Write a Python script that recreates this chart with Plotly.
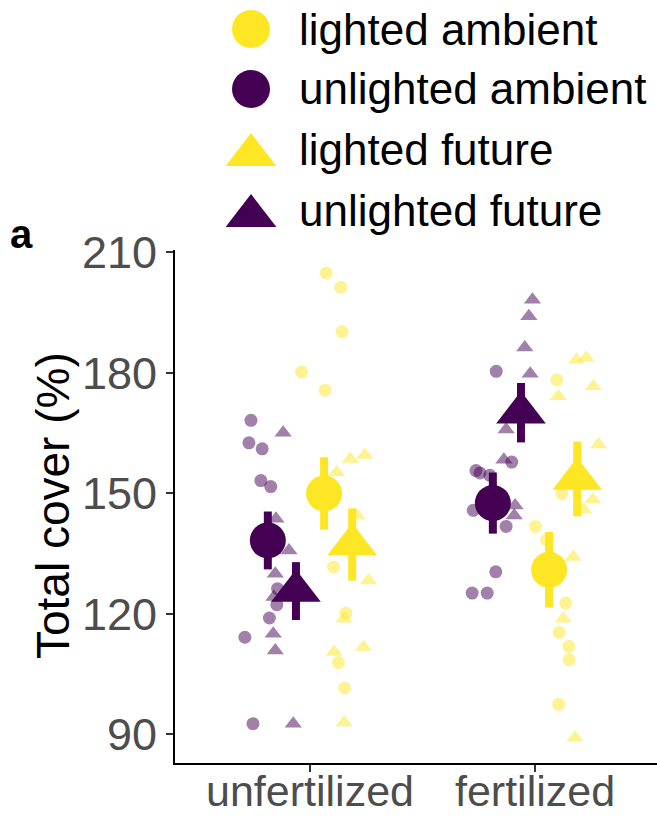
import plotly.graph_objects as go

# ---------------- data ----------------
categories = ["unfertilized", "fertilized"]
tick_values = [90, 120, 150, 180, 210]

groups = ["unlighted ambient", "unlighted future", "lighted ambient", "lighted future"]
legend_order = ["lighted ambient", "unlighted ambient", "lighted future", "unlighted future"]

# raw plot values (total cover %) per group, per category
ua_unfert = [168.2, 162.6, 161.1, 153.2, 151.7, 126.3, 122.3, 119.0, 114.2, 92.7]
ua_fert = [180.4, 157.8, 155.7, 155.1, 154.5, 145.8, 141.8, 130.5, 125.2, 125.2]
uf_unfert = [165.1, 143.7, 135.8, 130.0, 124.2, 115.1, 110.9, 92.7]
uf_fert = [198.2, 194.1, 186.3, 179.8, 165.9, 158.4, 147.0, 144.5]
la_unfert = [204.9, 201.3, 190.3, 180.2, 175.7, 131.7, 120.2, 107.9, 101.6]
la_fert = [178.3, 149.9, 141.8, 138.5, 122.7, 115.4, 111.9, 108.6, 97.5]
lf_unfert = [159.6, 158.6, 155.3, 144.5, 128.3, 118.8, 111.8, 110.5, 93.0]
lf_fert = [183.3, 183.8, 176.7, 174.2, 162.2, 148.5, 146.0, 134.2, 118.8, 89.2]

# horizontal jitter of each raw value (category units, relative to its dodge position)
ua_unfert_jit = [-0.075, -0.084, -0.025, -0.031, 0.013, 0.043, 0.040, 0.007, -0.102, -0.066]
ua_fert_jit = [0.015, 0.084, -0.075, -0.057, -0.013, -0.087, 0.059, 0.013, -0.092, -0.025]
uf_unfert_jit = [-0.057, -0.089, -0.031, -0.092, -0.098, -0.101, -0.092, -0.012]
uf_fert_jit = [0.051, 0.035, 0.017, 0.041, -0.066, -0.076, -0.026, -0.030]
la_unfert_jit = [0.009, 0.074, 0.080, -0.100, 0.005, 0.042, 0.097, 0.064, 0.091]
la_fert_jit = [0.034, 0.057, -0.060, -0.011, 0.074, 0.045, 0.088, 0.089, 0.043]
lf_unfert_jit = [0.056, -0.009, -0.069, 0.021, 0.072, -0.036, 0.050, -0.080, -0.036]
lf_fert_jit = [-0.003, 0.040, 0.072, -0.084, 0.094, 0.069, 0.028, -0.018, -0.062, -0.010]

# group means and standard errors [unfertilized, fertilized]
ua_mean = [138.3, 147.6]
ua_se = [7.2, 7.6]
uf_mean = [125.7, 170.1]
uf_se = [7.2, 7.4]
la_mean = [150.0, 131.0]
la_se = [9.0, 9.4]
lf_mean = [137.3, 153.6]
lf_se = [9.0, 9.3]

# ---------------- styling ----------------
PURPLE = "#440154"
YELLOW = "#FDE725"
FONT = "Liberation Sans, Arial, sans-serif"

raw = {
    "unlighted ambient": ([ua_unfert, ua_fert], [ua_unfert_jit, ua_fert_jit]),
    "unlighted future": ([uf_unfert, uf_fert], [uf_unfert_jit, uf_fert_jit]),
    "lighted ambient": ([la_unfert, la_fert], [la_unfert_jit, la_fert_jit]),
    "lighted future": ([lf_unfert, lf_fert], [lf_unfert_jit, lf_fert_jit]),
}
summary = {
    "unlighted ambient": (ua_mean, ua_se),
    "unlighted future": (uf_mean, uf_se),
    "lighted ambient": (la_mean, la_se),
    "lighted future": (lf_mean, lf_se),
}
dodge = {"unlighted ambient": -0.1875, "unlighted future": -0.0625,
         "lighted ambient": 0.0625, "lighted future": 0.1875}
color = {"unlighted ambient": PURPLE, "unlighted future": PURPLE,
         "lighted ambient": YELLOW, "lighted future": YELLOW}
symbol = {"unlighted ambient": "circle", "unlighted future": "triangle-up",
          "lighted ambient": "circle", "lighted future": "triangle-up"}

fig = go.Figure()

# raw points
for g in groups:
    vals, jits = raw[g]
    xs, ys = [], []
    for ci, (v, j) in enumerate(zip(vals, jits)):
        for val, jj in zip(v, j):
            xs.append(ci + 1 + dodge[g] + jj)
            ys.append(val)
    is_tri = symbol[g] == "triangle-up"
    fig.add_trace(go.Scatter(
        x=xs, y=ys, mode="markers", showlegend=False, hoverinfo="skip",
        marker=dict(symbol=symbol[g], color=color[g], opacity=0.5,
                    size=15 if is_tri else 13, line=dict(width=0)),
    ))

# means with error bars
for g in groups:
    m, se = summary[g]
    is_tri = symbol[g] == "triangle-up"
    fig.add_trace(go.Scatter(
        x=[ci + 1 + dodge[g] for ci in range(len(categories))], y=m,
        mode="markers", showlegend=False,
        error_y=dict(type="data", array=se, visible=True, color=color[g],
                     thickness=8, width=0),
        marker=dict(symbol=symbol[g], color=color[g], size=43 if is_tri else 36,
                    line=dict(width=0)),
    ))

# custom legend (large symbols) on a hidden helper axis measured in pixels
legend_rows = [29, 89, 150, 211]
for g, yrow in zip(legend_order, legend_rows):
    is_tri = symbol[g] == "triangle-up"
    fig.add_trace(go.Scatter(
        x=[76], y=[yrow + (5 if is_tri else 0)], xaxis="x2", yaxis="y2",
        mode="markers", showlegend=False, hoverinfo="skip", cliponaxis=False,
        marker=dict(symbol=symbol[g], color=color[g], size=44 if is_tri else 38,
                    line=dict(width=0)),
    ))
    fig.add_annotation(x=122, y=yrow, xref="x2", yref="y2", text=g,
                       showarrow=False, xanchor="left", yanchor="middle",
                       font=dict(family=FONT, size=44, color="black"))

axis_common = dict(showgrid=False, zeroline=False, showline=True, linecolor="black",
                   linewidth=2, ticks="outside", ticklen=7, tickwidth=2,
                   tickcolor="#333333", automargin=False)

fig.update_layout(
    width=657, height=818,
    margin=dict(l=175, r=0, t=0, b=55, autoexpand=False),
    paper_bgcolor="white", plot_bgcolor="white",
    showlegend=False,
    xaxis=dict(range=[0.4, 2.542], tickvals=[1, 2], ticktext=categories,
               domain=[0, 1], anchor="y", ticklabelstandoff=-18,
               tickfont=dict(family=FONT, size=43, color="#4d4d4d"), **axis_common),
    yaxis=dict(range=[82.9, 210.6], tickvals=tick_values,
               ticktext=[str(t) for t in tick_values],
               domain=[0, 513 / 763], anchor="x", ticklabelstandoff=0,
               tickfont=dict(family=FONT, size=45, color="#4d4d4d"), **axis_common),
    xaxis2=dict(range=[0, 482], domain=[0, 1], anchor="y2", visible=False,
                automargin=False),
    yaxis2=dict(range=[248, 0], domain=[0.675, 1], anchor="x2", visible=False,
                automargin=False),
)

# y-axis title
fig.add_annotation(x=(53 - 175) / 482, y=(763 - 506) / 763, xref="paper", yref="paper",
                   text="Total cover (%)", textangle=-90, showarrow=False,
                   xanchor="center", yanchor="middle",
                   font=dict(family=FONT, size=46, color="black"))
# panel tag
fig.add_annotation(x=(21 - 175) / 482, y=(763 - 234) / 763, xref="paper", yref="paper",
                   text="<b>a</b>", showarrow=False, xanchor="center", yanchor="middle",
                   font=dict(family=FONT, size=40, color="black"))

fig.write_html("out.html")
